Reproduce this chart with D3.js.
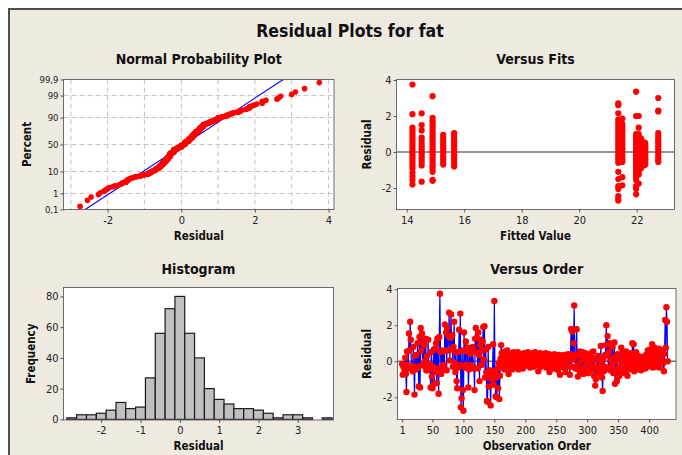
<!DOCTYPE html>
<html>
<head>
<meta charset="utf-8">
<script src="https://cdn.jsdelivr.net/npm/d3@7"></script>
<style>
  html, body { margin: 0; padding: 0; background: #ffffff; }
  svg { display: block; }
</style>
</head>
<body>
<svg id="chart" width="682" height="455"></svg>
<script>
// Residuals of the fat model, in observation order
const residuals = [
  -0.15, -0.75, -0.3, -0.2, -0.5, 0.2, -0.7, -1.7, 0.55, -0.2,
  -0.4, 1.55, 0.6, 2.2, 1.2, -0.35, -0.25, -0.55, 0.8, -0.3,
  -1.85, 0.3, -0.45, 0.35, -0.4, 1.0, -0.3, -1.4, 1.35, -1.45,
  1.85, 0.6, 1.55, -0.2, 1.0, -0.25, 0.9, 0.05, 1.25, -0.5,
  0.3, -0.5, 1.2, -0.3, -0.45, -0.15, -1.45, 0.5, -0.85, -1.5,
  -0.3, 0.65, -1.25, 0.7, -0.6, 1.0, -1.2, 1.25, -0.4, -1.8,
  1.35, 3.75, 0.5, -0.7, 0.6, -0.3, 0.55, -0.2, -0.45, 2.05,
  0.6, 1.6, -0.5, 1.85, 0.6, 1.4, 2.7, 0.05, 1.3, 2.6,
  0.65, 1.45, -0.3, 0.8, 2.2, -0.1, -0.6, 0.5, -1.1, -1.5,
  0.5, -0.35, 1.75, -0.2, 2.65, -2.55, -2.05, 0.6, -1.6, -2.75,
  1.6, -0.25, -0.35, 1.1, 0.55, -0.2, 0.75, -1.45, -0.45, 0.7,
  0.4, -0.2, 0.6, -0.35, 0.8, -0.3, -0.4, -1.6, 1.25, 1.85,
  0.5, 1.3, -0.4, 1.6, 0.35, -1.1, 0.9, 1.2, -0.2, 0.6,
  1.1, 1.9, 0.1, 1.95, -0.9, 0.65, -0.6, -2.2, -2.25, 0.8,
  -1.4, -0.5, -0.9, -2.45, -0.7, -1.0, -0.55, 0.95, -1.3, 3.35,
  -0.6, -1.95, -0.9, -2.0, -0.4, -1.5, -0.1, -2.1, -0.8, 0.15,
  0.9, 0.45, -0.25, 0.2, -0.1, -0.45, 0.55, 0.0, -0.35, 0.3,
  0.6, -0.15, -0.7, 0.15, -0.3, 0.4, -0.2, 0.25, -0.45, 0.1,
  0.5, -0.05, -0.3, 0.35, 0.05, -0.25, 0.2, 0.5, -0.45, 0.0,
  0.2, -0.3, 0.4, -0.1, 0.3, -0.4, 0.1, 0.45, -0.2, 0.25,
  -0.25, 0.35, 0.0, 0.5, -0.15, 0.2, 0.4, -0.35, 0.05, 0.3,
  -0.1, 0.45, -0.3, 0.25, 0.1, 0.5, -0.2, 0.35, -0.05, 0.2,
  -0.55, 0.3, 0.05, 0.45, -0.3, 0.25, 0.4, -0.1, 0.2, -0.2,
  0.35, 0.1, 0.45, -0.35, 0.05, 0.3, -0.15, 0.4, -0.6, 0.2,
  0.0, 0.35, -0.25, 0.25, 0.1, -0.4, 0.4, -0.05, 0.25, -0.3,
  0.3, 0.0, -0.5, 0.2, 0.35, -0.75, 0.1, 0.25, -0.2, 0.3,
  0.15, -0.35, 0.35, -0.05, -0.6, 0.25, 0.0, -0.3, 0.4, 0.1,
  0.2, -0.75, 0.4, 1.8, -0.3, 1.65, 0.1, 1.0, 3.1, 0.35,
  -0.4, 0.3, 1.78, -0.2, -0.85, 0.35, -0.5, 0.55, 0.0, -0.6,
  0.3, -0.4, 0.5, -0.7, 0.15, -0.3, 0.45, -0.55, 0.2, -0.1,
  0.35, -0.65, 0.05, 0.4, -0.5, 0.25, -0.2, 0.5, -0.35, 0.55,
  -0.8, 0.1, -1.35, -1.0, -0.3, 0.2, -0.6, 0.3, -0.45, 0.05,
  -0.7, 0.85, -0.2, -0.9, -1.65, 0.1, -0.55, -0.3, 0.35, 0.9,
  2.0, 0.35, 1.4, -0.35, 0.5, 1.0, -0.5, 0.1, 0.85, -0.2,
  0.8, -0.65, 0.2, 1.05, -1.25, 0.0, -0.45, -1.1, 0.4, -0.85,
  -0.35, -0.8, 0.15, -0.55, 0.75, -0.05, 0.5, -0.4, 0.1, -0.65,
  0.25, -0.3, 0.55, -0.5, -0.8, 0.0, 0.4, -0.35, 0.1, -0.15,
  0.45, -0.45, 1.0, 0.15, 0.95, -0.55, 0.2, -0.25, 0.5, -0.4,
  0.05, -0.45, 0.3, -0.1, -0.35, 0.2, -0.5, 0.1, -0.05, -0.4,
  0.25, -0.2, 0.15, -0.4, 0.35, 0.0, -0.3, 0.6, -0.15, 0.2,
  0.65, -0.25, 0.3, 0.1, 0.95, -0.35, 0.45, 0.0, 0.75, -0.3,
  0.5, 0.2, -0.2, 0.4, 0.1, 0.7, -0.35, 0.3, 0.55, 0.0,
  0.3, 0.6, -0.1, -0.55, 0.4, 2.3, 0.75, 3.0, 2.2, 0.0
];

// Fitted values (one per fitted level) and the residuals seen at each level
const fitLevels = [14.2, 14.52, 14.9, 15.27, 15.65, 21.36, 21.5, 21.98, 22.07, 22.15, 22.24, 22.3, 22.75];
const fitResiduals = [
  [3.75, 2.1, 1.35, 1.2, 1.05, 0.9, 0.75, 0.6, 0.45, 0.3, 0.15, 0.0, -0.15, -0.3, -0.45, -0.6, -0.75, -0.9, -1.15, -1.35, -1.55, -1.8],
  [2.15, 1.5, 1.2, 0.8, 0.65, 0.45, 0.3, 0.15, 0.0, -0.15, -0.3, -0.45, -0.6, -0.75, -1.65],
  [3.1, 1.9, 1.75, 1.6, 1.45, 1.3, 1.15, 1.0, 0.85, 0.7, 0.55, 0.4, 0.25, 0.1, -0.05, -0.2, -0.35, -0.5, -0.65, -0.8, -0.95, -1.1, -1.55, -1.6],
  [0.95, 0.8, 0.65, 0.5, 0.35, 0.2, 0.05, -0.1, -0.25, -0.4, -0.55, -0.7],
  [1.05, 0.9, 0.75, 0.6, 0.45, 0.3, 0.15, 0.0, -0.15, -0.3, -0.45, -0.6, -0.8],
  [2.7, 2.6, 2.15, 1.8, 1.65, 1.5, 1.35, 1.2, 1.05, 0.9, 0.75, 0.6, 0.45, 0.3, 0.15, 0.0, -0.15, -0.3, -0.45, -0.6, -1.1, -1.5, -1.9, -2.05, -2.45, -2.6, -2.7],
  [1.85, 1.55, 1.4, 1.25, 1.1, 0.95, 0.8, 0.65, 0.5, 0.35, 0.2, 0.05, -0.1, -0.25, -0.4, -0.55, -1.4, -1.85],
  [3.35, 2.0, 1.0, 0.85, 0.7, 0.55, 0.4, 0.25, 0.1, -0.05, -0.2, -0.35, -0.5, -0.65, -0.8, -0.95, -1.1, -1.25, -1.4, -1.55, -1.9, -2.05, -2.35],
  [2.0, 1.35, 1.0, 0.85, 0.7, 0.55, 0.4, 0.25, 0.1, -0.05, -0.2, -0.35, -0.5, -0.65, -0.8, -0.95, -1.1, -1.25, -1.75],
  [0.75, 0.6, 0.45, 0.3, 0.15, 0.0, -0.15, -0.3, -0.45, -0.6, -0.75, -0.9],
  [0.55, 0.4, 0.25, 0.1, -0.05, -0.2, -0.35, -0.5, -0.65, -0.75],
  [0.5, 0.35, 0.2, 0.05, -0.1, -0.25, -0.4, -0.55, -0.7],
  [3.0, 2.3, 2.25, 1.05, 0.9, 0.75, 0.6, 0.45, 0.3, 0.15, 0.0, -0.15, -0.3, -0.45, -0.55]
];

// Histogram of residuals: bin midpoints and counts
const histBinMids = [-2.75, -2.5, -2.25, -2.0, -1.75, -1.5, -1.25, -1.0, -0.75, -0.5, -0.25, 0.0, 0.25,
  0.5, 0.75, 1.0, 1.25, 1.5, 1.75, 2.0, 2.25, 2.5, 2.75, 3.0, 3.25, 3.5, 3.75];
const histCounts = [1, 3, 3, 4, 6, 11, 7, 8, 27, 56, 72, 80, 56, 40, 20, 13, 10, 7, 7, 6, 4, 1, 3, 3, 1, 0, 1];
const histBinWidth = 0.25;

// Tick values and labels
const probTicks = [0.1, 1, 10, 50, 90, 99, 99.9];
const probTickLabels = ["0,1", "1", "10", "50", "90", "99", "99,9"];
const probGridPercents = [1, 10, 50, 90, 99];
const normXTicks = [-2, 0, 2, 4];
const normXGrid = [-3, -2, -1, 0, 1, 2, 3, 4];
const fitsXTicks = [14, 16, 18, 20, 22];
const residualTicks = [-2, 0, 2, 4];
const histXTicks = [-2, -1, 0, 1, 2, 3];
const histYTicks = [0, 20, 40, 60, 80];
const orderTicks = [1, 50, 100, 150, 200, 250, 300, 350, 400];

// ---- helpers ----
// inverse standard normal CDF (Acklam's rational approximation)
function normInv(p) {
  const a = [-3.969683028665376e+01, 2.209460984245205e+02, -2.759285104469687e+02, 1.383577518672690e+02, -3.066479806614716e+01, 2.506628277459239e+00];
  const b = [-5.447609879822406e+01, 1.615858368580409e+02, -1.556989798598866e+02, 6.680131188771972e+01, -1.328068155288572e+01];
  const c = [-7.784894002430293e-03, -3.223964580411365e-01, -2.400758277161838e+00, -2.549732539343734e+00, 4.374664141464968e+00, 2.938163982698783e+00];
  const d = [7.784695709041462e-03, 3.224671290700398e-01, 2.445134137142996e+00, 3.754408661907416e+00];
  const pl = 0.02425, ph = 1 - pl;
  let q, r;
  if (p < pl) {
    q = Math.sqrt(-2 * Math.log(p));
    return (((((c[0]*q+c[1])*q+c[2])*q+c[3])*q+c[4])*q+c[5]) / ((((d[0]*q+d[1])*q+d[2])*q+d[3])*q+1);
  }
  if (p > ph) {
    q = Math.sqrt(-2 * Math.log(1 - p));
    return -(((((c[0]*q+c[1])*q+c[2])*q+c[3])*q+c[4])*q+c[5]) / ((((d[0]*q+d[1])*q+d[2])*q+d[3])*q+1);
  }
  q = p - 0.5; r = q * q;
  return (((((a[0]*r+a[1])*r+a[2])*r+a[3])*r+a[4])*r+a[5])*q / (((((b[0]*r+b[1])*r+b[2])*r+b[3])*r+b[4])*r+1);
}

const W = 682, H = 455;
const FONT = "'DejaVu Sans Condensed', 'DejaVu Sans', sans-serif";
const svg = d3.select("#chart");

svg.append("rect").attr("width", W).attr("height", H).attr("fill", "#ffffff");
svg.append("rect")
  .attr("x", 9).attr("y", 9).attr("width", W + 20).attr("height", H + 20)
  .attr("fill", "#EEEAE0").attr("stroke", "#4f4f4f").attr("stroke-width", 2);

svg.append("text")
  .attr("x", 350).attr("y", 36.5).attr("text-anchor", "middle")
  .attr("font-family", FONT).attr("font-weight", "bold").attr("font-size", 17.5)
  .attr("fill", "#111").text("Residual Plots for fat");

// plot boxes
const boxNorm = { x0: 63.5, x1: 334, y0: 79.5, y1: 209.5 };
const boxFits = { x0: 396.5, x1: 674.5, y0: 79.5, y1: 209.5 };
const boxHist = { x0: 63.5, x1: 333.5, y0: 287.5, y1: 420 };
const boxOrd  = { x0: 397.5, x1: 676, y0: 288.5, y1: 419.5 };

function panel(b, title, titleY, xLabel, xLabelY, yLabel, yLabelX) {
  svg.append("rect").attr("x", b.x0).attr("y", b.y0)
    .attr("width", b.x1 - b.x0).attr("height", b.y1 - b.y0).attr("fill", "#ffffff");
  svg.append("text").attr("x", (b.x0 + b.x1) / 2).attr("y", titleY)
    .attr("text-anchor", "middle").attr("font-family", FONT).attr("font-weight", "bold")
    .attr("font-size", 14).attr("fill", "#111").text(title);
  svg.append("text").attr("x", (b.x0 + b.x1) / 2).attr("y", xLabelY)
    .attr("text-anchor", "middle").attr("font-family", FONT).attr("font-weight", "bold")
    .attr("font-size", 11.5).attr("fill", "#111").text(xLabel);
  const cy = (b.y0 + b.y1) / 2;
  svg.append("text").attr("transform", `translate(${yLabelX},${cy}) rotate(-90)`)
    .attr("text-anchor", "middle").attr("dominant-baseline", "central")
    .attr("font-family", FONT).attr("font-weight", "bold")
    .attr("font-size", 11.5).attr("fill", "#111").text(yLabel);
  return svg.append("g");
}

function border(b) {
  svg.append("rect").attr("x", b.x0).attr("y", b.y0)
    .attr("width", b.x1 - b.x0).attr("height", b.y1 - b.y0)
    .attr("fill", "none").attr("stroke", "#6b6b6b").attr("stroke-width", 1);
}

function styleAxis(g, size) {
  g.select(".domain").remove();
  g.selectAll(".tick line").attr("stroke", "#555");
  g.selectAll(".tick text").attr("font-family", FONT).attr("font-size", size || 11).attr("fill", "#222");
}

function xAxis(b, scale, ticks, fmt, size) {
  const g = svg.append("g").attr("transform", `translate(0,${b.y1})`)
    .call(d3.axisBottom(scale).tickValues(ticks).tickSize(3).tickPadding(3.5).tickFormat(fmt || (d => d)));
  styleAxis(g, size);
  return g;
}
function yAxis(b, scale, ticks, fmt, size) {
  const g = svg.append("g").attr("transform", `translate(${b.x0},0)`)
    .call(d3.axisLeft(scale).tickValues(ticks).tickSize(3).tickPadding(2).tickFormat(fmt || (d => d)));
  styleAxis(g, size);
  return g;
}

// ---- Normal Probability Plot ----
{
  const n = residuals.length;
  const sorted = residuals.slice().sort(d3.ascending);
  const mu = d3.mean(residuals), sd = d3.deviation(residuals);
  const zLo = normInv(0.001), zHi = normInv(0.999);
  const x = d3.scaleLinear().domain([-3.2, 4.15]).range([boxNorm.x0, boxNorm.x1]);
  const y = d3.scaleLinear().domain([zLo, zHi]).range([boxNorm.y1, boxNorm.y0]);
  const g = panel(boxNorm, "Normal Probability Plot", 64, "Residual", 240, "Percent", 27);

  g.selectAll("line.vg").data(normXGrid).join("line")
    .attr("x1", d => x(d)).attr("x2", d => x(d)).attr("y1", boxNorm.y0).attr("y2", boxNorm.y1)
    .attr("stroke", "#c4c4c4").attr("stroke-width", 1).attr("stroke-dasharray", "5,3");
  g.selectAll("line.hg").data(probGridPercents).join("line")
    .attr("x1", boxNorm.x0).attr("x2", boxNorm.x1)
    .attr("y1", d => y(normInv(d / 100))).attr("y2", d => y(normInv(d / 100)))
    .attr("stroke", "#c4c4c4").attr("stroke-width", 1).attr("stroke-dasharray", "5,3");

  g.append("line")
    .attr("x1", x(mu + sd * zLo)).attr("y1", y(zLo))
    .attr("x2", x(mu + sd * zHi)).attr("y2", y(zHi))
    .attr("stroke", "#0000ff").attr("stroke-width", 1.1);

  g.selectAll("circle").data(sorted).join("circle")
    .attr("cx", d => x(d))
    .attr("cy", (d, i) => y(normInv((i + 1 - 0.3) / (n + 0.4))))
    .attr("r", 2.8).attr("fill", "#ff0000");

  border(boxNorm);
  xAxis(boxNorm, x, normXTicks);
  const ya = svg.append("g").attr("transform", `translate(${boxNorm.x0},0)`)
    .call(d3.axisLeft(y).tickValues(probTicks.map(p => normInv(p / 100)))
      .tickSize(3).tickPadding(2).tickFormat((d, i) => probTickLabels[i]));
  styleAxis(ya, 9.5);
}

// ---- Versus Fits ----
{
  const x = d3.scaleLinear().domain([13.645, 23.315]).range([boxFits.x0, boxFits.x1]);
  const y = d3.scaleLinear().domain([-3.194, 4.028]).range([boxFits.y1, boxFits.y0]);
  const g = panel(boxFits, "Versus Fits", 64, "Fitted Value", 240, "Residual", 367);
  g.append("line").attr("x1", boxFits.x0).attr("x2", boxFits.x1).attr("y1", y(0)).attr("y2", y(0))
    .attr("stroke", "#707070").attr("stroke-width", 1.5);
  const pts = fitLevels.flatMap((f, i) => fitResiduals[i].map(r => ({ f, r })));
  g.selectAll("circle").data(pts).join("circle")
    .attr("cx", d => x(d.f)).attr("cy", d => y(d.r)).attr("r", 3.1).attr("fill", "#ff0000");
  border(boxFits);
  xAxis(boxFits, x, fitsXTicks);
  yAxis(boxFits, y, residualTicks);
}

// ---- Histogram ----
{
  const x = d3.scaleLinear().domain([-2.96, 3.91]).range([boxHist.x0, boxHist.x1]);
  const y = d3.scaleLinear().domain([-0.4, 85.8]).range([boxHist.y1, boxHist.y0]);
  const g = panel(boxHist, "Histogram", 274, "Residual", 449.5, "Frequency", 30.5);
  g.selectAll("rect.bar").data(histCounts).join("rect").attr("class", "bar")
    .attr("x", (d, i) => x(histBinMids[i] - histBinWidth / 2))
    .attr("width", (d, i) => x(histBinMids[i] + histBinWidth / 2) - x(histBinMids[i] - histBinWidth / 2))
    .attr("y", d => y(d)).attr("height", d => y(0) - y(d))
    .attr("fill", "#c0c0c0").attr("stroke", "#1a1a1a").attr("stroke-width", 1.2);
  border(boxHist);
  xAxis(boxHist, x, histXTicks);
  yAxis(boxHist, y, histYTicks);
}

// ---- Versus Order ----
{
  const x = d3.scaleLinear().domain([-6.5, 443.5]).range([boxOrd.x0, boxOrd.x1]);
  const y = d3.scaleLinear().domain([-3.233, 4.044]).range([boxOrd.y1, boxOrd.y0]);
  const g = panel(boxOrd, "Versus Order", 274, "Observation Order", 449.5, "Residual", 367);
  g.append("line").attr("x1", boxOrd.x0).attr("x2", boxOrd.x1).attr("y1", y(0)).attr("y2", y(0))
    .attr("stroke", "#707070").attr("stroke-width", 1.5);
  const line = d3.line().x((d, i) => x(i + 1)).y(d => y(d));
  g.append("path").datum(residuals).attr("d", line)
    .attr("fill", "none").attr("stroke", "#0000ff").attr("stroke-width", 1.2);
  g.selectAll("circle").data(residuals).join("circle")
    .attr("cx", (d, i) => x(i + 1)).attr("cy", d => y(d)).attr("r", 3.2).attr("fill", "#ff0000");
  border(boxOrd);
  xAxis(boxOrd, x, orderTicks);
  yAxis(boxOrd, y, residualTicks);
}
</script>
</body>
</html>
